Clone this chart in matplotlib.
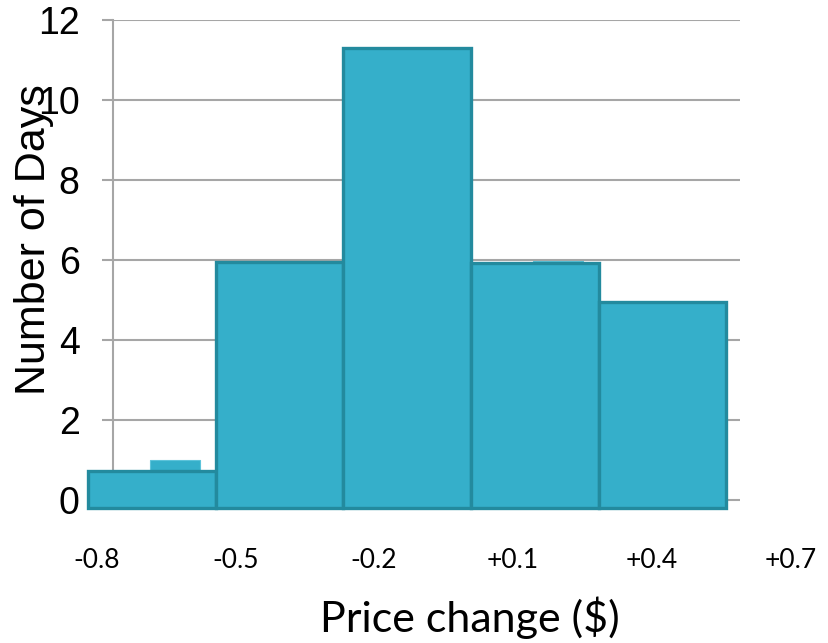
import matplotlib
matplotlib.use("Agg")
import matplotlib.pyplot as plt
import numpy as np

# Data
bin_labels = ["-0.8", "-0.5", "-0.2", "+0.1", "+0.4", "+0.7"]
bin_edges = [-0.8, -0.5, -0.2, 0.1, 0.4, 0.7]
days = [0.72, 5.95, 11.3, 5.92, 4.95]          # overlaid wide bars
days_under = [1.0, 5.95, 11.0, 5.97, 4.9]       # underlying column series (mostly hidden)
y_ticks = [0, 2, 4, 6, 8, 10, 12]

W, H = 829, 643
fig = plt.figure(figsize=(W / 100, H / 100), dpi=100)

fill = "#35AFCA"
edge = "#238A9E"
grid_c = "#A6A6A6"

# main axes: left 113px, right 740px, top 20px (12), bottom 508px (-0.2)
ax = fig.add_axes([113 / W, 1 - 508 / H, (740 - 113) / W, (508 - 20) / H])
x = np.arange(len(days))
ax.bar(x + 0.18, days_under, width=0.39, color=fill, edgecolor="#5CC3DA",
       linewidth=0.8, zorder=2, clip_on=False)
ax.bar(x, np.array(days) + 0.2, bottom=-0.2, width=1.0, color=fill,
       edgecolor=edge, linewidth=2.4, zorder=3, clip_on=False)

ax.set_xlim(-0.306, 4.608)
ax.set_ylim(-0.2, 12)
ax.set_yticks(y_ticks)
ax.set_yticklabels([str(t) for t in y_ticks], fontsize=27, family="Liberation Sans")
ax.tick_params(axis="y", length=8, width=1.5, color=grid_c, pad=16)
ax.set_xticks([])
ax.grid(axis="y", color=grid_c, linewidth=1.5, zorder=1)
ax.set_axisbelow(True)
for s in ["top", "right", "bottom"]:
    ax.spines[s].set_visible(False)
ax.spines["left"].set_color(grid_c)
ax.spines["left"].set_linewidth(1.5)
ax.spines["left"].set_bounds(0, 12)
ax.spines["left"].set_zorder(1.5)

# label axis for bin edge labels
lab = fig.add_axes([96.5 / W, 1 - 545 / H, (790.5 - 96.5) / W, 0.0001])
lab.set_xlim(bin_edges[0], bin_edges[-1])
lab.set_xticks(bin_edges)
lab.set_xticklabels(bin_labels, fontsize=19, family="Lato")
lab.tick_params(axis="x", length=0, pad=2)
lab.set_yticks([])
for s in lab.spines.values():
    s.set_visible(False)
lab.patch.set_alpha(0)

fig.text(470 / W, 1 - 618 / H, "Price change ($)", ha="center", va="center",
         fontsize=31, family="Lato")
fig.text(34 / W, 1 - 240 / H, "Number of Days", ha="center", va="center",
         rotation=90, fontsize=31, family="Liberation Sans")

fig.savefig("out.png", dpi=100)
